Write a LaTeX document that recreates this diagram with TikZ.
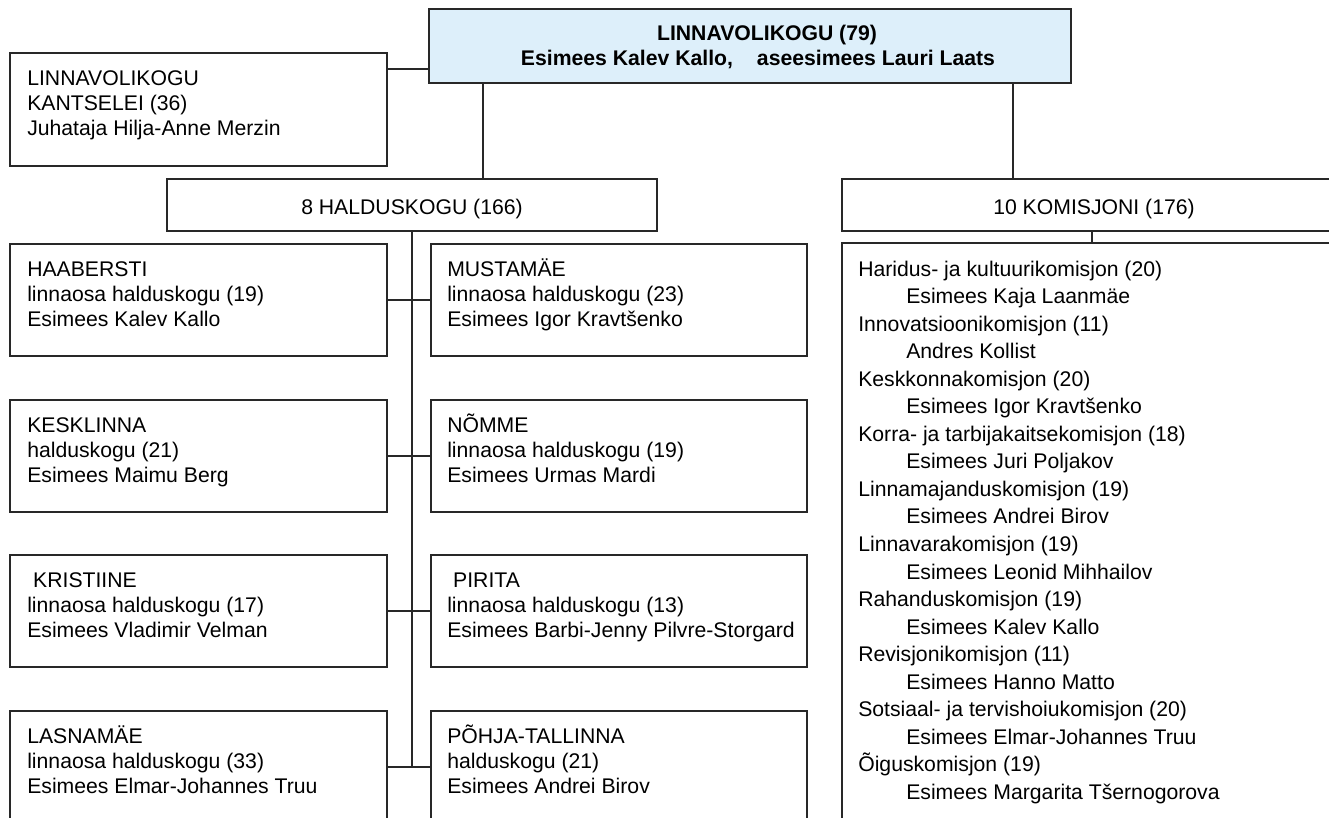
\documentclass[tikz,border=0pt]{standalone}
\usepackage{fontspec}
\setmainfont{Liberation Sans}
\usetikzlibrary{fit}
\definecolor{topblue}{RGB}{221,239,250}
\definecolor{linegray}{RGB}{40,40,40}
\newcommand\mlines[2]{\vtop{\lineskiplimit=-100pt\baselineskip=#1\halign{##\hfil\cr#2\crcr}}}
\newcommand\mcenter[2]{\vtop{\lineskiplimit=-100pt\baselineskip=#1\halign{\hfil##\hfil\cr#2\crcr}}}
\newcommand\ind{\hskip36pt}
\newcommand\lsp{\hskip0.278em}
\begin{document}
\begin{tikzpicture}[x=0.75pt,y=-0.75pt,
  box/.style={draw=linegray, line width=0.9pt, inner sep=0pt},
  txt/.style={anchor=base west, inner sep=0pt, font=\fontsize{15.9pt}{19pt}\selectfont},
  ctxt/.style={txt, anchor=base},
  conn/.style={draw=linegray, line width=0.9pt}]
\useasboundingbox (0,0) rectangle (1329,818);
\fill[white] (0,0) rectangle (1329,818);
\clip (0,0) rectangle (1329,818);

% top box
\node[box, fill=topblue, fit={(429,9) (1071,83)}] (top) {};
\node[ctxt, font=\fontsize{15.9pt}{19pt}\selectfont\bfseries] (topT) at (758,40)
  {\mcenter{18.75pt}{\hskip13.5pt LINNAVOLIKOGU (79)\cr Esimees Kalev Kallo, \hskip0.85em aseesimees Lauri Laats}};

% kantselei
\node[box, fit={(10,53) (387,166)}] (kant) {};
\node[txt] (kantT) at (27,85) {\mlines{18.75pt}{LINNAVOLIKOGU\cr KANTSELEI (36)\cr Juhataja Hilja-Anne Merzin}};

% second level
\node[box, fit={(167,179) (657,231)}] (hald) {};
\node[ctxt] (haldT) at (412,214) {8 HALDUSKOGU (166)};
\node[box, fit={(842,179) (1346,231)}] (kom) {};
\node[ctxt] (komT) at (1094,214) {10 KOMISJONI (176)};

% district boxes
\node[box, fit={(10,244) (387,356)}] (L1) {};
\node[box, fit={(431,244) (807,356)}] (R1) {};
\node[box, fit={(10,400) (387,512)}] (L2) {};
\node[box, fit={(431,400) (807,512)}] (R2) {};
\node[box, fit={(10,555) (387,667)}] (L3) {};
\node[box, fit={(431,555) (807,667)}] (R3) {};
\node[box, fit={(10,711) (387,840)}] (L4) {};
\node[box, fit={(431,711) (807,840)}] (R4) {};

\node[txt] (L1T) at (27,276) {\mlines{19.1pt}{HAABERSTI\cr linnaosa halduskogu (19)\cr Esimees Kalev Kallo}};
\node[txt] (R1T) at (447,276) {\mlines{19.1pt}{MUSTAMÄE\cr linnaosa halduskogu (23)\cr Esimees Igor Kravtšenko}};
\node[txt] (L2T) at (27,432) {\mlines{19.1pt}{KESKLINNA\cr halduskogu (21)\cr Esimees Maimu Berg}};
\node[txt] (R2T) at (447,432) {\mlines{19.1pt}{NÕMME\cr linnaosa halduskogu (19)\cr Esimees Urmas Mardi}};
\node[txt] (L3T) at (27,587) {\mlines{19.1pt}{\lsp KRISTIINE\cr linnaosa halduskogu (17)\cr Esimees Vladimir Velman}};
\node[txt] (R3T) at (447,587) {\mlines{19.1pt}{\lsp PIRITA\cr linnaosa halduskogu (13)\cr Esimees Barbi-Jenny Pilvre-Storgard}};
\node[txt] (L4T) at (27,743) {\mlines{19.1pt}{LASNAMÄE\cr linnaosa halduskogu (33)\cr Esimees Elmar-Johannes Truu}};
\node[txt] (R4T) at (447,743) {\mlines{19.1pt}{PÕHJA-TALLINNA\cr halduskogu (21)\cr Esimees Andrei Birov}};

% commissions list
\node[box, fit={(842,243) (1346,840)}] (list) {};
\node[txt] (listT) at (858,276) {\mlines{20.66pt}{%
Haridus- ja kultuurikomisjon (20)\cr
\ind Esimees Kaja Laanmäe\cr
Innovatsioonikomisjon (11)\cr
\ind Andres Kollist\cr
Keskkonnakomisjon (20)\cr
\ind Esimees Igor Kravtšenko\cr
Korra- ja tarbijakaitsekomisjon (18)\cr
\ind Esimees Juri Poljakov\cr
Linnamajanduskomisjon (19)\cr
\ind Esimees Andrei Birov\cr
Linnavarakomisjon (19)\cr
\ind Esimees Leonid Mihhailov\cr
Rahanduskomisjon (19)\cr
\ind Esimees Kalev Kallo\cr
Revisjonikomisjon (11)\cr
\ind Esimees Hanno Matto\cr
Sotsiaal- ja tervishoiukomisjon (20)\cr
\ind Esimees Elmar-Johannes Truu\cr
Õiguskomisjon (19)\cr
\ind Esimees Margarita Tšernogorova}};

% connectors
\coordinate (jk) at (429,69);
\draw[conn] (kant.east |- jk) -- (jk);
\coordinate (jh) at (483,83);
\draw[conn] (jh) -- (jh |- hald.north);
\coordinate (jc) at (1013,83);
\draw[conn] (jc) -- (jc |- kom.north);
\coordinate (jl) at (1092,231);
\draw[conn] (jl) -- (jl |- list.north);
\coordinate (spineEnd) at (412,767);
\draw[conn] (hald.south) -- (spineEnd);
\draw[conn] (L1.east |- 0,300) -- (R1.west |- 0,300);
\draw[conn] (L2.east) -- (R2.west);
\draw[conn] (L3.east) -- (R3.west);
\draw[conn] (L4.east |- spineEnd) -- (R4.west |- spineEnd);
\end{tikzpicture}
\end{document}
